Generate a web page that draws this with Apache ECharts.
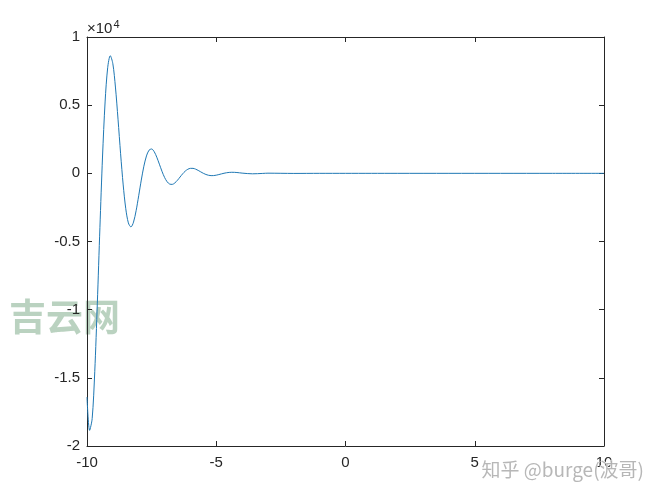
<!DOCTYPE html>
<html>
<head>
<meta charset="utf-8">
<script src="https://cdn.jsdelivr.net/npm/echarts@6/dist/echarts.min.js"></script>
<style>
  html, body { margin: 0; padding: 0; background: #fff; }
  #chart { width: 667px; height: 500px; }
</style>
</head>
<body>
<div id="chart"></div>
<script>
// x positions of the samples
var xValues = [
  -10, -9.9, -9.8, -9.7, -9.6, -9.5, -9.4, -9.3, -9.2, -9.1,
  -9, -8.9, -8.8, -8.7, -8.6, -8.5, -8.4, -8.3, -8.2, -8.1,
  -8, -7.9, -7.8, -7.7, -7.6, -7.5, -7.4, -7.3, -7.2, -7.1,
  -7, -6.9, -6.8, -6.7, -6.6, -6.5, -6.4, -6.3, -6.2, -6.1,
  -6, -5.9, -5.8, -5.7, -5.6, -5.5, -5.4, -5.3, -5.2, -5.1,
  -5, -4.9, -4.8, -4.7, -4.6, -4.5, -4.4, -4.3, -4.2, -4.1,
  -4, -3.6, -3.2, -3, -2, -1, 0, 1, 2, 4, 6, 8, 10
];
// y values (raw units, axis shows x10^4)
var yValues = [
  -16412, -18852, -17991, -14549, -9522, -3960, 1196, 5235, 7748, 8627,
  8037, 6330, 3971, 1437, -851, -2596, -3636, -3933, -3577, -2741,
  -1644, -494, 523, 1276, 1698, 1786, 1587, 1182, 671, 152,
  -298, -618, -790, -809, -701, -507, -271, -37, 161, 298,
  365, 365, 309, 216, 108, 2, -84, -142, -169, -164,
  -135, -91, -42, 5, 43, 68, 77, 73, 59, 39,
  16, -35, -6, 11, -7, 0, 0, 0, 0, 0, 0, 0, 0
];
var xTicks = [-10, -5, 0, 5, 10];
var yTicks = ['-2', '-1.5', '-1', '-0.5', '0', '0.5', '1'];

var points = xValues.map(function (x, i) { return [x, yValues[i]]; });

var axisColor = '#262626';
var font = 'Liberation Sans, Arial, sans-serif';

var mychart = echarts.init(document.getElementById('chart'));
var option = {
  animation: false,
  backgroundColor: '#fff',
  grid: { left: 87, right: 63, top: 37, bottom: 54 },
  xAxis: [
    {
      type: 'value', min: -10, max: 10, interval: 5,
      axisLine: { show: true, onZero: false, lineStyle: { color: axisColor, width: 1 } },
      axisTick: { show: true, inside: true, length: 5, lineStyle: { color: axisColor } },
      axisLabel: {
        color: axisColor, fontSize: 15, fontFamily: font, margin: 9,
        formatter: function (v) { return xTicks.indexOf(v) >= 0 ? String(v) : ''; }
      },
      splitLine: { show: false }
    },
    {
      type: 'value', min: -10, max: 10, interval: 5, position: 'top',
      axisLine: { show: true, onZero: false, lineStyle: { color: axisColor, width: 1 } },
      axisTick: { show: true, inside: true, length: 5, lineStyle: { color: axisColor } },
      axisLabel: { show: false },
      splitLine: { show: false }
    }
  ],
  yAxis: [
    {
      type: 'value', min: -20000, max: 10000, interval: 5000,
      axisLine: { show: true, onZero: false, lineStyle: { color: axisColor, width: 1 } },
      axisTick: { show: true, inside: true, length: 5, lineStyle: { color: axisColor } },
      axisLabel: {
        color: axisColor, fontSize: 15, fontFamily: font, margin: 7,
        formatter: function (v) { return yTicks[Math.round((v + 20000) / 5000)]; }
      },
      splitLine: { show: false }
    },
    {
      type: 'value', min: -20000, max: 10000, interval: 5000, position: 'right',
      axisLine: { show: true, onZero: false, lineStyle: { color: axisColor, width: 1 } },
      axisTick: { show: true, inside: true, length: 5, lineStyle: { color: axisColor } },
      axisLabel: { show: false },
      splitLine: { show: false }
    }
  ],
  series: [
    {
      type: 'line',
      data: points,
      smooth: 0.3,
      showSymbol: false,
      lineStyle: { color: '#1f78b4', width: 1 },
      z: 3
    }
  ],
  graphic: [
    {
      type: 'text', left: 87, top: 19, z: 10,
      style: {
        text: '×10{s|4}',
        fill: axisColor, fontSize: 15, fontFamily: font,
        rich: { s: { fontSize: 11, fill: axisColor, verticalAlign: 'top', padding: [0, 0, 9, 1] } }
      }
    },
    {
      type: 'text', left: 9, top: 298, z: 0,
      style: {
        text: '吉云网', fill: 'rgba(140,180,150,0.6)',
        fontSize: 37, fontWeight: 'bold', fontFamily: 'Noto Sans CJK SC'
      }
    },
    {
      type: 'text', left: 481, top: 460, z: 10,
      style: {
        text: '知乎 @burge(波哥)', fill: 'rgba(170,170,170,0.85)',
        stroke: '#fff', lineWidth: 1,
        fontSize: 19, fontFamily: 'Noto Sans CJK SC'
      }
    }
  ]
};
mychart.setOption(option);
</script>
</body>
</html>
